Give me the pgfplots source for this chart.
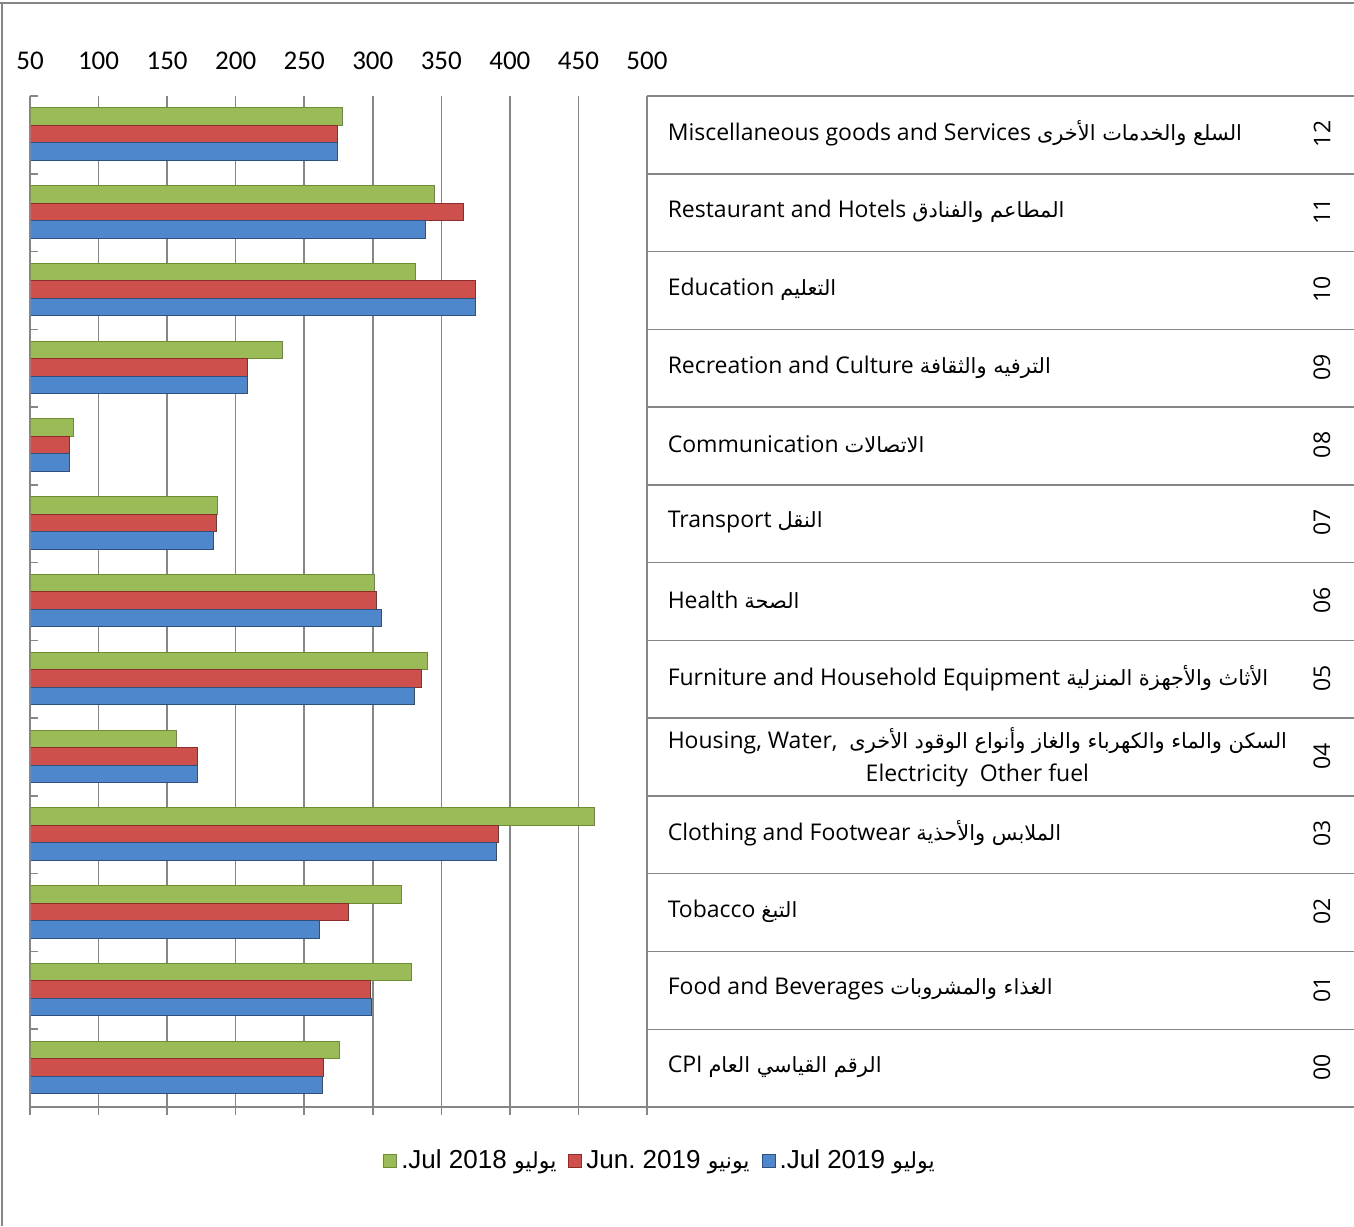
\documentclass[border=0pt]{standalone}
\usepackage{pgfplots}
\pgfplotsset{compat=1.18}
\usepackage{fontspec}
\setmainfont{Carlito}
\newfontfamily\legfont{Liberation Sans}
\newfontfamily\tabfont{Open Sans}
\newfontfamily\arabicfont[Script=Arabic,Scale=0.91]{DejaVu Sans}
\newfontfamily\legarabic[Script=Arabic,Scale=0.85]{DejaVu Sans}
\TeXXeTstate=1
\frenchspacing
\definecolor{gridgray}{RGB}{134,134,134}
\definecolor{gbase}{RGB}{155,187,89}
\definecolor{gdark}{RGB}{110,140,50}
\definecolor{rbase}{RGB}{205,80,77}
\definecolor{rdark}{RGB}{140,45,43}
\definecolor{bbase}{RGB}{79,135,205}
\definecolor{bdark}{RGB}{45,80,125}
\newcommand{\AR}[1]{{\arabicfont\beginR #1\endR}}
\newcommand{\LAR}[1]{{\legarabic\beginR #1\endR}}
\begin{document}
\begin{tikzpicture}
\useasboundingbox (0,0) rectangle (677pt,-613pt);
\begin{axis}[
  at={(15pt,-553.5pt)}, anchor=south west,
  scale only axis, width=308.5pt, height=505.5pt,
  xmin=50, xmax=500, ymin=-0.5, ymax=12.5,
  xbar, bar width=0.225,
  xtick={50,100,...,500},
  xtick pos=left, xticklabel pos=right,
  ytick={-0.5,0.5,...,12.5}, yticklabels={}, ytick pos=left,
  xtick align=outside, ytick align=inside,
  major tick length=4pt,
  tick style={gridgray, line width=0.75pt},
  xmajorgrids, major grid style={gridgray, line width=0.75pt},
  axis line style={draw=none},
  xticklabel style={font=\fontsize{13.5}{15}\selectfont, yshift=5.5pt},
  /pgf/number format/assume math mode=true,
  legend columns=-1,
  legend style={draw=none, at={(1.0227,-0.0534)}, anchor=center,
    font=\legfont\fontsize{13}{15}\selectfont,
    /tikz/every even column/.append style={column sep=4pt},
    /tikz/every odd column/.append style={column sep=0pt}},
  legend image code/.code={\draw[#1] (0pt,-3.25pt) rectangle (6.5pt,3.25pt);},
]
\addplot[bar shift=0.235, draw=gdark, line width=0.5pt, fill=gbase]
coordinates {(277.6,12) (344.7,11) (331.5,10) (234.5,9) (82,8) (186.4,7) (300.9,6) (339.6,5) (156.5,4) (461.4,3) (321.3,2) (328.6,1) (275.4,0)};
\addlegendentry{.Jul 2018 \LAR{يوليو}}
\addplot[bar shift=0.01, draw=rdark, line width=0.5pt, fill=rbase]
coordinates {(274,12) (366.5,11) (374.6,10) (208.3,9) (79,8) (185.7,7) (302.4,6) (335.2,5) (172.5,4) (392,3) (282,2) (298.7,1) (263.7,0)};
\addlegendentry{Jun. 2019 \LAR{يونيو}}
\addplot[bar shift=-0.215, draw=bdark, line width=0.5pt, fill=bbase]
coordinates {(274.6,12) (338.8,11) (374.6,10) (208.3,9) (79,8) (183.5,7) (306.7,6) (330.1,5) (172.5,4) (389.9,3) (260.8,2) (299.4,1) (263,0)};
\addlegendentry{.Jul 2019 \LAR{يوليو}}
\end{axis}
\begin{scope}[x=0.5pt,y=-0.5pt, line width=0.75pt]
  % frame
  \draw[gridgray] (0,3)--(1354,3);
  \draw[gridgray] (2,3)--(2,1226);
  % axis lines
  \draw[gridgray] (30,96)--(30,1107);
  \draw[gridgray] (30,1107)--(1354,1107);
  % table
  \draw[gridgray] (647,96)--(647,1107);
  \foreach \k in {0,...,12} {
    \draw[gridgray] (647,{96+77.77*\k})--(1354,{96+77.77*\k});
  }
  \tikzset{rowtext/.style={anchor=west, font=\tabfont\fontsize{11.5}{16.5}\selectfont, inner sep=0pt}}
  \node[rowtext] at (667,133) {Miscellaneous goods and Services \AR{السلع والخدمات الأخرى}};
  \node[rowtext] at (667,211) {Restaurant and Hotels \AR{المطاعم والفنادق}};
  \node[rowtext] at (667,289) {Education \AR{التعليم}};
  \node[rowtext] at (667,367) {Recreation and Culture \AR{الترفيه والثقافة}};
  \node[rowtext] at (667,444) {Communication \AR{الاتصالات}};
  \node[rowtext] at (667,522) {Transport \AR{النقل}};
  \node[rowtext] at (667,600) {Health \AR{الصحة}};
  \node[rowtext] at (667,678) {Furniture and Household Equipment \AR{الأثاث والأجهزة المنزلية}};
  \node[rowtext, align=center] at (667,757) {Housing, Water,\ \ \AR{السكن والماء والكهرباء والغاز وأنواع الوقود الأخرى}\\Electricity\ \ Other fuel};
  \node[rowtext] at (667,833) {Clothing and Footwear \AR{الملابس والأحذية}};
  \node[rowtext] at (667,911) {Tobacco \AR{التبغ}};
  \node[rowtext] at (667,989) {Food and Beverages \AR{الغذاء والمشروبات}};
  \node[rowtext] at (667,1067) {CPI \AR{الرقم القياسي العام}};
  \tikzset{code/.style={rotate=90, font=\tabfont\fontsize{11.5}{15}\selectfont, inner sep=0pt}}
  \foreach \c [count=\i from 0] in {12,11,10,09,08,07,06,05,04,03,02,01,00} {
    \node[code] at (1322,{96+77.77*(\i+0.5)-1}) {\c};
  }
\end{scope}
\end{tikzpicture}
\end{document}
